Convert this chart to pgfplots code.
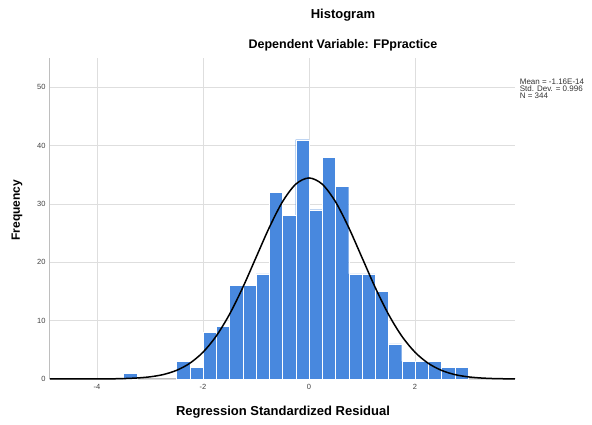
\documentclass[border=0pt]{standalone}
\usepackage{fontspec}
\setmainfont{Liberation Sans}
\usepackage{pgfplots}
\pgfplotsset{compat=1.18}
\definecolor{barblue}{RGB}{72,136,222}
\definecolor{gridgray}{RGB}{222,222,222}
\definecolor{axgray}{RGB}{190,190,190}

\begin{document}
\begin{tikzpicture}
\path[use as bounding box] (-50pt,-46pt) rectangle (542pt,379pt);
\begin{axis}[
  scale only axis,
  width=465pt, height=321pt,
  xmin=-4.887, xmax=3.887,
  ymin=0, ymax=55,
  xtick={-4,-2,0,2},
  ytick={0,10,20,30,40,50},
  major tick length=0pt,
  axis lines*=left,
  axis line style={axgray, line width=1pt},
  grid=major,
  major grid style={gridgray, line width=0.8pt},
  /pgf/number format/assume math mode=true,
  tick label style={font=\fontsize{7.5}{8}\selectfont, text=black!75},
  yticklabel style={xshift=-1pt},
  xticklabel style={yshift=-2pt},
  xlabel={\textbf{Regression Standardized Residual}},
  xlabel style={font=\fontsize{13}{14}\selectfont,
    at={(rel axis cs:0.501,-0.103)}, anchor=center},
  ylabel={\textbf{Frequency}},
  ylabel style={font=\fontsize{12}{13}\selectfont,
    at={(rel axis cs:-0.071,0.526)}, anchor=center, rotate=0},
  clip=false,
]
% histogram, bin width 0.25
\addplot[ybar interval, fill=barblue, draw=white, line width=0.4pt] coordinates {
(-3.5,1) (-3.25,1)
};
\addplot[ybar interval, fill=barblue, draw=white, line width=0.4pt] coordinates {
(-2.5,3) (-2.25,2) (-2.0,8) (-1.75,9) (-1.5,16) (-1.25,16) (-1.0,18)
(-0.75,32) (-0.5,28) (-0.25,41) (0.0,29) (0.25,38) (0.5,33) (0.75,18)
(1.0,18) (1.25,15) (1.5,6) (1.75,3) (2.0,3) (2.25,3) (2.5,2) (2.75,2)
(3.0,2)
};
% normal curve, mean 0, sd 0.996
\addplot[black, line width=1.5pt, smooth] coordinates {
(-4.887,0) (-4.5,0) (-4.25,0.003) (-4.0,0.01) (-3.75,0.03) (-3.5,0.07)
(-3.25,0.17) (-3.0,0.37) (-2.75,0.76) (-2.5,1.48) (-2.25,2.69)
(-2.0,4.59) (-1.75,7.36) (-1.5,11.08) (-1.25,15.67) (-1.0,20.81)
(-0.75,25.94) (-0.5,30.37) (-0.25,33.38) (0,34.45) (0.25,33.38)
(0.5,30.37) (0.75,25.94) (1.0,20.81) (1.25,15.67) (1.5,11.08)
(1.75,7.36) (2.0,4.59) (2.25,2.69) (2.5,1.48) (2.75,0.76) (3.0,0.37)
(3.25,0.17) (3.5,0.07) (3.75,0.03) (3.887,0.01)
};
\node[font=\fontsize{13}{14}\selectfont] at (rel axis cs:0.630,1.134)
  {\textbf{Histogram}};
\node[font=\fontsize{12.5}{13}\selectfont] at (rel axis cs:0.630,1.04)
  {\textbf{Dependent Variable: FPpractice}};
\node[anchor=north west, align=left, inner sep=0pt,
  font=\fontsize{8}{7}\selectfont, text=black!80]
  at (rel axis cs:1.01,0.935)
  {Mean = -1.16E-14\\Std. Dev. = 0.996\\N = 344};
\end{axis}
\end{tikzpicture}
\end{document}
